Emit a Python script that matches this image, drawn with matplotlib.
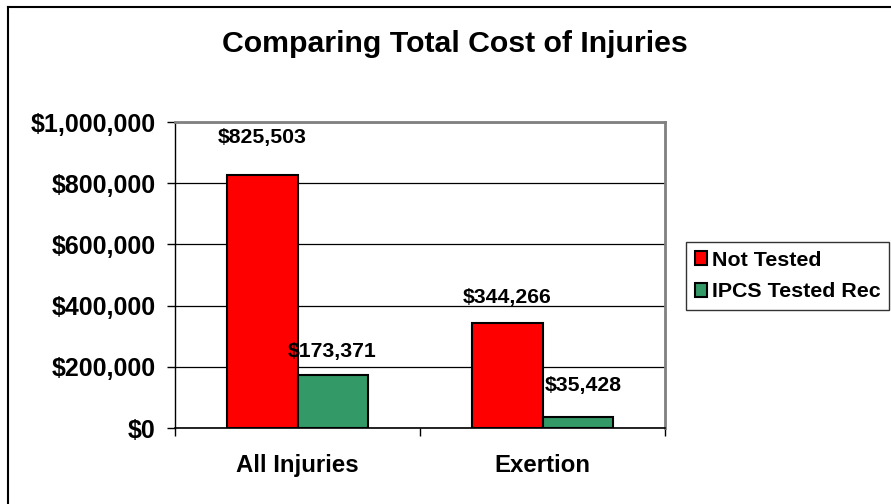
import numpy as np
import matplotlib.pyplot as plt
from matplotlib.lines import Line2D
from matplotlib.ticker import FuncFormatter

plt.rcParams['font.family'] = ['Liberation Sans', 'DejaVu Sans']
plt.rcParams['font.weight'] = 'bold'

categories = ["All Injuries", "Exertion"]
not_tested = [825503, 344266]
ipcs_tested = [173371, 35428]
series_names = ["Not Tested", "IPCS Tested Rec"]

# label offsets above bar tops, in points
off_red = [(0, 27), (0, 18)]
off_green = [(0, 17), (4, 23)]

fig = plt.figure(figsize=(8.91, 5.04), dpi=100)
ax = fig.add_axes([175/891, 1 - 428/504, 490/891, 306/504])

x = np.arange(len(categories))
w = 0.286
b1 = ax.bar(x - w/2, not_tested, w, color="#FF0000", edgecolor="black", linewidth=1.5, zorder=3)
b2 = ax.bar(x + w/2, ipcs_tested, w, color="#339966", edgecolor="black", linewidth=1.5, zorder=3)

for rect, v, off in zip(b1, not_tested, off_red):
    ax.annotate(f"${v:,}", (rect.get_x() + rect.get_width()/2, v), xytext=off,
                textcoords="offset points", ha="center", va="center",
                fontsize=15.3, fontweight="bold", zorder=5)
for rect, v, off in zip(b2, ipcs_tested, off_green):
    ax.annotate(f"${v:,}", (rect.get_x() + rect.get_width()/2, v), xytext=off,
                textcoords="offset points", ha="center", va="center",
                fontsize=15.3, fontweight="bold", zorder=5)

ax.set_xlim(-0.5, 1.5)
ax.set_ylim(0, 1000000)
ax.set_yticks(np.arange(0, 1000001, 200000))
ax.yaxis.set_major_formatter(FuncFormatter(lambda v, p: f"${int(v):,}"))
ax.set_xticks([-0.5, 0.5, 1.5], minor=False)
ax.set_xticklabels([])
ax.set_xticks(x, minor=True)
ax.set_xticklabels(categories, minor=True)
ax.tick_params(axis="x", which="minor", length=0, pad=19, labelsize=17.3)
ax.tick_params(axis="x", which="major", direction="out", length=6, width=1)
ax.tick_params(axis="y", direction="out", length=6, width=1, labelsize=18, pad=8)
for lab in ax.get_xticklabels(minor=True) + ax.get_yticklabels():
    lab.set_fontweight("bold")

ax.grid(axis="y", color="black", linewidth=0.9, zorder=0)
ax.spines["top"].set_color("#808080")
ax.spines["right"].set_color("#808080")
ax.spines["top"].set_linewidth(2)
ax.spines["right"].set_linewidth(2)
ax.spines["left"].set_linewidth(1)
ax.spines["bottom"].set_linewidth(1.2)

fig.text(455/891, 1 - 44/504, "Comparing Total Cost of Injuries", ha="center", va="center",
         fontsize=21.8, fontweight="bold")

leg = fig.legend(b1.patches[:1] + b2.patches[:1], series_names, loc="upper left",
                 bbox_to_anchor=(686/891, 1 - 242/504), frameon=True, fancybox=False,
                 edgecolor="black", prop={"size": 15.4, "weight": "bold"},
                 handlelength=0.6, handleheight=0.6, handletextpad=0.2,
                 borderpad=0.4, labelspacing=0.6, borderaxespad=0)
leg.get_frame().set_linewidth(1)

# outer chart frame (left and top edges)
fig.add_artist(Line2D([8/891, 8/891], [0, 1 - 7/504], color="black", linewidth=1.5))
fig.add_artist(Line2D([8/891, 1], [1 - 7/504, 1 - 7/504], color="black", linewidth=1.5))

fig.savefig("out.png", dpi=100)
